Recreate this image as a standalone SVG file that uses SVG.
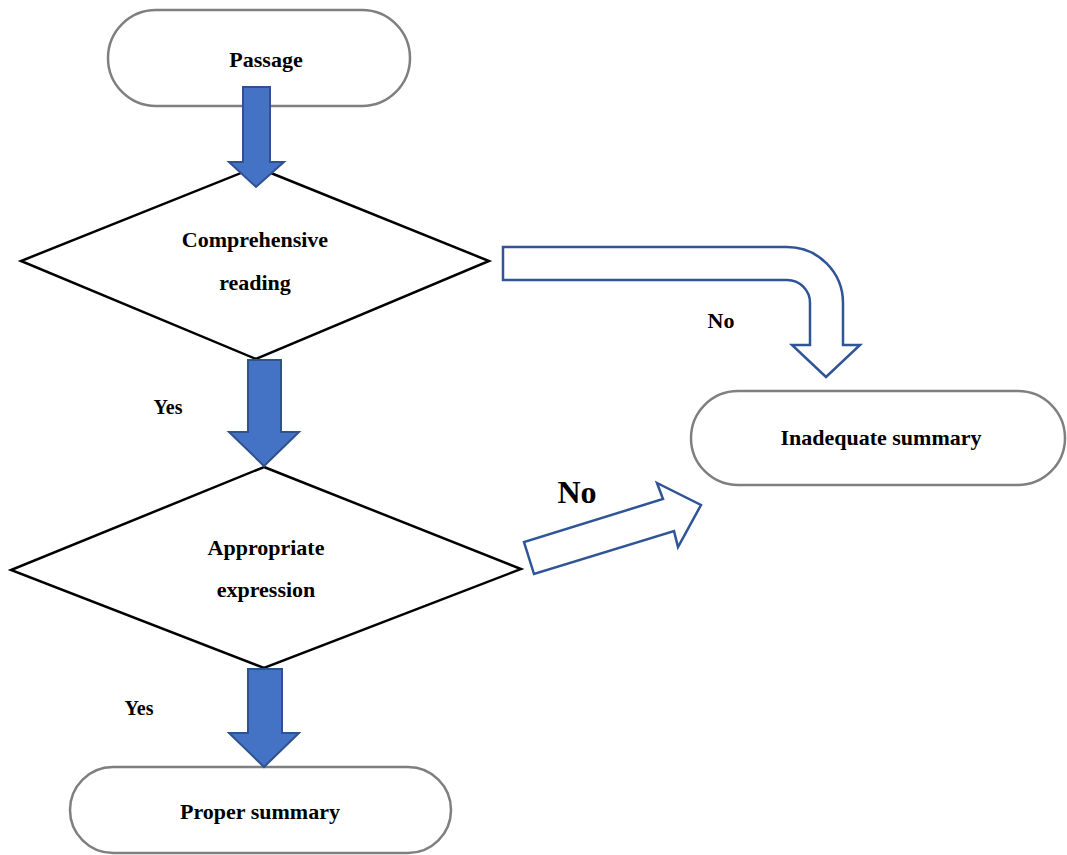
<svg xmlns="http://www.w3.org/2000/svg" width="1067" height="855" viewBox="0 0 1067 855">
<style>
.term{fill:#fff;stroke:#7f7f7f;stroke-width:2.5}
.dec{fill:#fff;stroke:#000;stroke-width:2.5}
.solid{fill:#4472C4;stroke:#2F528F;stroke-width:2}
.hollow{fill:#fff;stroke:#2F5597;stroke-width:2.5;stroke-linejoin:miter}
text{font-family:"Liberation Serif","Times New Roman",serif;font-weight:bold;fill:#000;text-anchor:middle}
.t{font-size:22px}
</style>
<rect width="1067" height="855" fill="#fff"/>
<g id="passage"><rect class="term" x="108" y="10" width="302" height="96" rx="48"/><text class="t" x="266" y="67">Passage</text></g>
<g id="inadequate"><rect class="term" x="691" y="391" width="374" height="94" rx="47"/><text class="t" x="881" y="445">Inadequate summary</text></g>
<g id="proper"><rect class="term" x="70" y="767" width="381" height="86" rx="43"/><text class="t" x="260" y="819">Proper summary</text></g>
<g id="comprehensive"><polygon class="dec" points="256,167 489,261 256,359 21,261"/><text class="t" x="255" y="247">Comprehensive</text><text class="t" x="255" y="290">reading</text></g>
<g id="appropriate"><polygon class="dec" points="264,467 521,569 264,668 11,570"/><text class="t" x="266" y="555">Appropriate</text><text class="t" x="266" y="597">expression</text></g>
<g id="connectors">
<polygon class="solid" points="243,87 270,87 270,162 284,162 256,187 229,162 243,162"/>
<polygon class="solid" points="248,360 281,360 281,432 299,432 264,466 229,432 248,432"/>
<polygon class="solid" points="248,669 282,669 282,733 299,733 264,767 229,733 248,733"/>
<path class="hollow" d="M503,247 L787,247 A56,56 0 0 1 843,303 L843,345 L860,345 L826,377 L792,345 L810,345 L810,303 A23,23 0 0 0 787,280 L503,280 Z"/>
<polygon class="hollow" points="534,574 524,542 663,499 657,483 701,505 678,547 674,531"/>
<text x="721" y="328" style="font-size:22px">No</text>
<text x="577" y="503" style="font-size:32px">No</text>
<text x="168" y="414" style="font-size:20px">Yes</text>
<text x="139" y="715" style="font-size:20px">Yes</text>
</g>
</svg>
